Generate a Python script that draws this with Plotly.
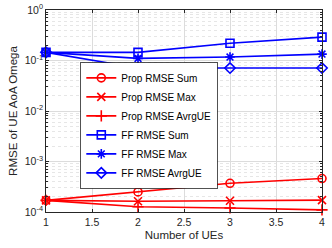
import plotly.graph_objects as go

num_ues = [1, 2, 3, 4]
prop_sum = [1.7e-4, 2.5e-4, 3.7e-4, 4.6e-4]
prop_max = [1.7e-4, 1.63e-4, 1.67e-4, 1.72e-4]
prop_avg = [1.7e-4, 1.27e-4, 1.2e-4, 1.1e-4]
ff_sum = [0.145, 0.145, 0.22, 0.29]
ff_max = [0.145, 0.11, 0.117, 0.134]
ff_avg = [0.145, 0.071, 0.071, 0.071]

x_ticks = [1, 1.5, 2, 2.5, 3, 3.5, 4]
y_ticks = [1e-4, 1e-3, 1e-2, 1e-1, 1e0]
y_ticktext = ["10<sup>-4</sup>", "10<sup>-3</sup>", "10<sup>-2</sup>", "10<sup>-1</sup>", "10<sup>0</sup>"]

series = [
    ("Prop RMSE Sum", prop_sum, "red", "circle-open"),
    ("Prop RMSE Max", prop_max, "red", "x-thin-open"),
    ("Prop RMSE AvrgUE", prop_avg, "red", "cross-thin-open"),
    ("FF RMSE Sum", ff_sum, "blue", "square-open"),
    ("FF RMSE Max", ff_max, "blue", "asterisk-open"),
    ("FF RMSE AvrgUE", ff_avg, "blue", "diamond-open"),
]

fig = go.Figure()
for name, vals, col, sym in series:
    fig.add_trace(go.Scatter(
        x=num_ues, y=vals, name=name, mode="lines+markers",
        line=dict(color=col, width=1.6),
        marker=dict(symbol=sym, size=8, color=col, line=dict(color=col, width=1.6)),
        cliponaxis=False,
    ))

fig.update_layout(
    width=332, height=248,
    margin=dict(l=46, r=10, t=10, b=36, autoexpand=False),
    paper_bgcolor="white", plot_bgcolor="white",
    font=dict(family="Liberation Sans, Arial, sans-serif", size=10, color="#262626"),
    showlegend=True,
    legend=dict(
        x=0.125, y=0.428, xanchor="left", yanchor="middle",
        bgcolor="white", bordercolor="#262626", borderwidth=0.8,
        font=dict(size=10, color="black"), tracegroupgap=0,
        itemwidth=30,
    ),
)
fig.update_xaxes(
    range=[1, 4], tickvals=x_ticks, ticktext=[str(v) for v in x_ticks],
    showgrid=True, gridcolor="#dcdcdc", gridwidth=0.7,
    showline=True, linecolor="#262626", linewidth=0.8, mirror="ticks",
    ticks="inside", ticklen=3, tickcolor="#262626",
    title=dict(text="Number of UEs", font=dict(size=11.5), standoff=4),
    zeroline=False, tickfont=dict(size=10.5), automargin=False,
)
fig.update_yaxes(
    type="log", range=[-4, 0], tickvals=y_ticks, ticktext=y_ticktext,
    showgrid=True, gridcolor="#dcdcdc", gridwidth=0.7,
    minor=dict(showgrid=True, gridcolor="#e6e6e6", griddash="dot", gridwidth=0.6,
               ticks="inside", ticklen=2, tickcolor="#262626", dtick="D1"),
    showline=True, linecolor="#262626", linewidth=0.8, mirror="ticks",
    ticks="inside", ticklen=3, tickcolor="#262626",
    title=dict(text="RMSE of UE AoA Omega", font=dict(size=11.5), standoff=4),
    zeroline=False, tickfont=dict(size=10.5), automargin=False,
)

fig.write_html("out.html", config={"displayModeBar": False},
               post_script="document.body.style.margin='0';")
